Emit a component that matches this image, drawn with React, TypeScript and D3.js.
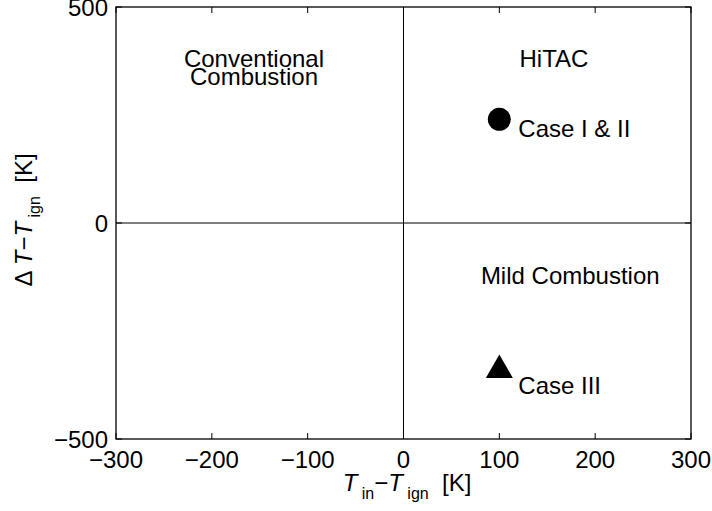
import { useEffect, useRef } from "react";
import * as d3 from "d3";

const xTicks = [-300, -200, -100, 0, 100, 200, 300];
const yTicks = [-500, 0, 500];

const caseNames = ["Case I & II", "Case III"];
const caseX = [100, 100];
const caseY = [240, -332];
const caseMarker = ["circle", "triangle"];

const regionLines = [["Conventional", "Combustion"], ["HiTAC"], ["Mild Combustion"]];
const regionX = [-156, 157, 174];
const regionY = [361, 361, -141];

export default function App() {
  const svgRef = useRef<SVGSVGElement>(null);

  useEffect(() => {
    if (!svgRef.current) return;
    const svg = d3.select(svgRef.current);
    svg.selectAll("*").remove();

    const width = 712;
    const height = 511;
    const margin = { top: 7, right: 21, bottom: 72, left: 116 };
    const w = width - margin.left - margin.right;
    const h = height - margin.top - margin.bottom;
    const font = "'Liberation Sans', Arial, Helvetica, sans-serif";

    const g = svg
      .append("g")
      .attr("transform", `translate(${margin.left},${margin.top})`);

    const x = d3.scaleLinear().domain([-300, 300]).range([0, w]);
    const y = d3.scaleLinear().domain([-500, 500]).range([h, 0]);

    const fmt = (t: number) => (t < 0 ? `\u2212${Math.abs(t)}` : `${t}`);

    // zero lines
    g.append("line")
      .attr("x1", x(0)).attr("x2", x(0))
      .attr("y1", 0).attr("y2", h)
      .attr("stroke", "#000").attr("stroke-width", 1);
    g.append("line")
      .attr("x1", 0).attr("x2", w)
      .attr("y1", y(0)).attr("y2", y(0))
      .attr("stroke", "#000").attr("stroke-width", 1);

    // inward ticks on all four sides
    const tl = 6;
    xTicks.forEach((t) => {
      g.append("line").attr("x1", x(t)).attr("x2", x(t)).attr("y1", h).attr("y2", h - tl).attr("stroke", "#000");
      g.append("line").attr("x1", x(t)).attr("x2", x(t)).attr("y1", 0).attr("y2", tl).attr("stroke", "#000");
      g.append("text")
        .attr("x", x(t))
        .attr("y", h + 29)
        .attr("text-anchor", "middle")
        .attr("font-family", font)
        .attr("font-size", "24px")
        .text(fmt(t));
    });
    yTicks.forEach((t) => {
      g.append("line").attr("x1", 0).attr("x2", tl).attr("y1", y(t)).attr("y2", y(t)).attr("stroke", "#000");
      g.append("line").attr("x1", w).attr("x2", w - tl).attr("y1", y(t)).attr("y2", y(t)).attr("stroke", "#000");
      g.append("text")
        .attr("x", -8)
        .attr("y", y(t) + 9)
        .attr("text-anchor", "end")
        .attr("font-family", font)
        .attr("font-size", "24px")
        .text(fmt(t));
    });

    // box
    g.append("rect")
      .attr("x", 0).attr("y", 0).attr("width", w).attr("height", h)
      .attr("fill", "none").attr("stroke", "#000").attr("stroke-width", 1.3);

    // region labels
    regionLines.forEach((lines, i) => {
      lines.forEach((ln, j) => {
        g.append("text")
          .attr("x", x(regionX[i]))
          .attr("y", y(regionY[i]) + j * 18)
          .attr("text-anchor", "middle")
          .attr("font-family", font)
          .attr("font-size", "24px")
          .text(ln);
      });
    });

    // case markers
    caseNames.forEach((name, i) => {
      const cx = x(caseX[i]);
      const cy = y(caseY[i]);
      if (caseMarker[i] === "circle") {
        g.append("circle").attr("cx", cx).attr("cy", cy).attr("r", 11.5).attr("fill", "#000");
      } else {
        const tri = d3.line()([[0, -12], [13.5, 11.5], [-13.5, 11.5]]) + "Z";
        g.append("path")
          .attr("transform", `translate(${cx},${cy})`)
          .attr("d", tri)
          .attr("fill", "#000");
      }
      g.append("text")
        .attr("x", cx + 19)
        .attr("y", cy + 18 + (i === 1 ? 10 : 0))
        .attr("font-family", font)
        .attr("font-size", "24px")
        .text(name);
    });

    // x label
    const xl = g.append("text")
      .attr("x", x(0) + 3.5)
      .attr("y", h + 52)
      .attr("text-anchor", "middle")
      .attr("font-family", font)
      .attr("font-size", "24px")
      .style("white-space", "pre");
    xl.append("tspan").attr("font-style", "italic").text("T");
    xl.append("tspan").attr("font-size", "16px").attr("dy", 8).text(" in");
    xl.append("tspan").attr("dy", -8).text("\u2212");
    xl.append("tspan").attr("font-style", "italic").text("T");
    xl.append("tspan").attr("font-size", "16px").attr("dy", 8).text(" ign");
    xl.append("tspan").attr("dy", -8).text("  [K]");

    // y label
    const yl = g.append("text")
      .attr("transform", `translate(${32 - margin.left},${220 - margin.top}) rotate(-90)`)
      .attr("text-anchor", "middle")
      .attr("font-family", font)
      .attr("font-size", "24px")
      .style("white-space", "pre");
    yl.append("tspan").text("\u0394 ");
    yl.append("tspan").attr("font-style", "italic").text("T");
    yl.append("tspan").text("\u2212");
    yl.append("tspan").attr("font-style", "italic").text("T");
    yl.append("tspan").attr("font-size", "16px").attr("dy", 8).text(" ign");
    yl.append("tspan").attr("dy", -8).text("  [K]");
  }, []);

  return <svg ref={svgRef} width={712} height={511} style={{ position: "absolute", left: 0, top: 0, background: "#fff" }} />;
}
